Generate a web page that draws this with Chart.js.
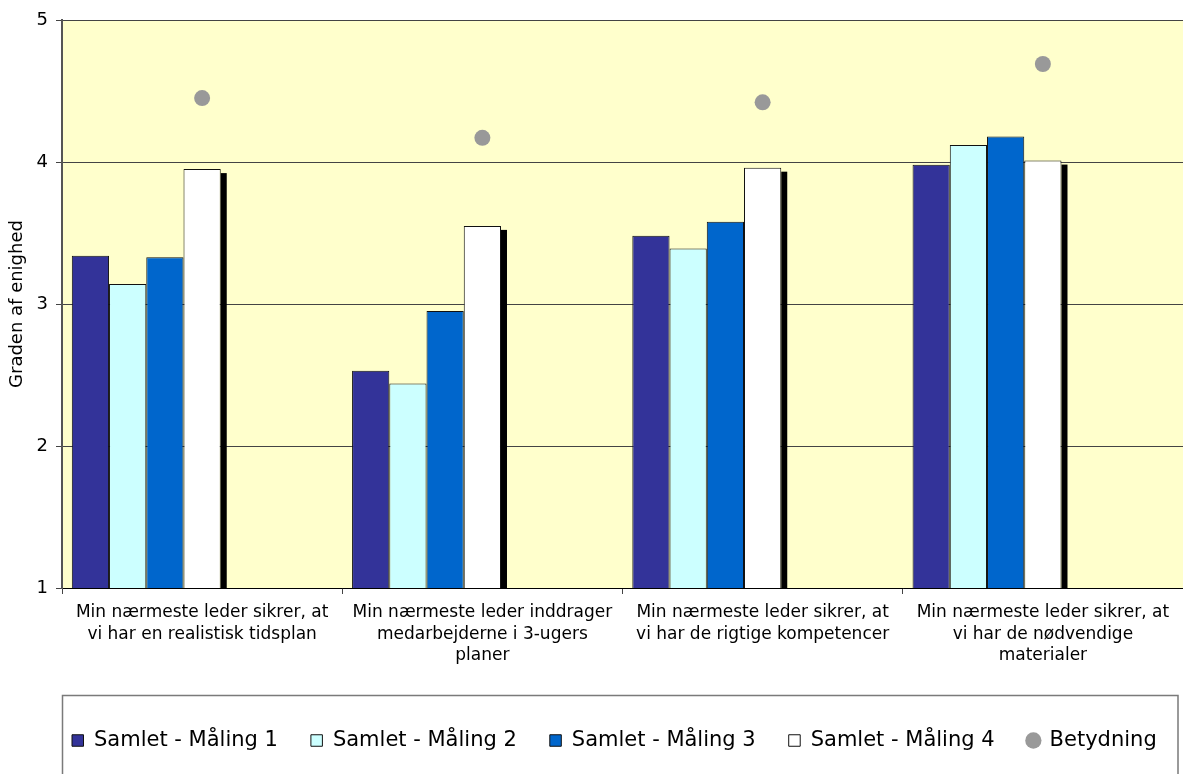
<!DOCTYPE html>
<html>
<head>
<meta charset="utf-8">
<script src="https://cdn.jsdelivr.net/npm/chart.js@4"></script>
<style>
  html, body { margin: 0; padding: 0; background: #ffffff; }
  #wrap { width: 1183px; height: 774px; position: relative; }
</style>
</head>
<body>
<div id="wrap"><canvas id="c"></canvas></div>
<script>
// ---- data ----
const categories = [
  ["Min nærmeste leder sikrer, at", "vi har en realistisk tidsplan"],
  ["Min nærmeste leder inddrager", "medarbejderne i 3-ugers", "planer"],
  ["Min nærmeste leder sikrer, at", "vi har de rigtige kompetencer"],
  ["Min nærmeste leder sikrer, at", "vi har de nødvendige", "materialer"]
];
const seriesNames = ["Samlet - Måling 1", "Samlet - Måling 2", "Samlet - Måling 3", "Samlet - Måling 4", "Betydning"];
const maaling1 = [3.34, 2.53, 3.48, 3.98];
const maaling2 = [3.14, 2.44, 3.39, 4.12];
const maaling3 = [3.33, 2.95, 3.58, 4.18];
const maaling4 = [3.95, 3.55, 3.96, 4.01];
const betydning = [4.45, 4.17, 4.42, 4.69];
const yTicks = [1, 2, 3, 4, 5];
const yTitle = "Graden af enighed";

// ---- styles ----
const barColors = ["#333399", "#CCFFFF", "#0066CC", "#FFFFFF"];
const barBorder = "#111111";
const dotColor = "#999999";
const plotBg = "#FFFFCC";
const FONT = "'DejaVu Sans', Verdana, sans-serif";
const LEG_PAD = 33;

Chart.defaults.font.family = FONT;
Chart.defaults.color = "#000000";

const emptySlot = () => ({
  type: 'bar', label: '', data: categories.map(() => null),
  backgroundColor: 'rgba(0,0,0,0)', borderWidth: 0
});

const barSeries = [maaling1, maaling2, maaling3, maaling4];
const datasets = barSeries.map((vals, i) => ({
  type: 'bar',
  label: seriesNames[i],
  data: vals,
  backgroundColor: barColors[i],
  borderColor: barBorder,
  borderWidth: 1,
  pointStyle: 'rect'
}));
datasets.push(emptySlot(), emptySlot(), emptySlot());
datasets.push({
  type: 'line',
  label: seriesNames[4],
  data: betydning,
  showLine: false,
  order: -1,
  pointStyle: 'circle',
  pointRadius: 8,
  pointHoverRadius: 8,
  pointBorderWidth: 0,
  pointBackgroundColor: dotColor,
  pointBorderColor: dotColor,
  backgroundColor: dotColor,
  borderColor: dotColor,
  borderWidth: 0
});

const bgPlugin = {
  id: 'bg',
  beforeDraw(chart) {
    const ctx = chart.ctx, a = chart.chartArea;
    ctx.save();
    ctx.fillStyle = '#ffffff';
    ctx.fillRect(0, 0, chart.width, chart.height);
    ctx.fillStyle = plotBg;
    ctx.fillRect(a.left, a.top, a.right - a.left, a.bottom - a.top);
    ctx.restore();
    // center legend under plot area
    const lg = chart.legend;
    if (lg && lg.lineWidths) {
      const lw = lg.lineWidths[0];
      const start = a.left + 10;
      lg.left = 0;
      lg.right = 2 * start - LEG_PAD + lw;
      lg.width = lg.right - lg.left;
    }
  },
  afterDraw(chart) {
    const ctx = chart.ctx, a = chart.chartArea, lg = chart.legend;
    ctx.save();
    ctx.strokeStyle = '#7a7a7a';
    ctx.lineWidth = 1.5;
    ctx.beginPath();
    const top = lg.top - 1.5;
    ctx.moveTo(a.left + 0.5, chart.height + 5);
    ctx.lineTo(a.left + 0.5, top);
    ctx.lineTo(a.right - 5, top);
    ctx.lineTo(a.right - 5, chart.height + 5);
    ctx.stroke();
    ctx.restore();
  }
};

const shadowPlugin = {
  id: 'barShadow',
  beforeDatasetDraw(chart, args) {
    if (args.index !== 3) return;
    const ctx = chart.ctx, a = chart.chartArea;
    ctx.save();
    ctx.beginPath();
    ctx.rect(a.left, a.top, a.right - a.left, a.bottom - a.top);
    ctx.clip();
    ctx.fillStyle = '#000000';
    args.meta.data.forEach(bar => {
      const p = bar.getProps(['x', 'y', 'base', 'width'], true);
      ctx.fillRect(p.x + p.width / 2, p.y + 4, 6, p.base - p.y - 4);
    });
    ctx.restore();
  }
};

new Chart(document.getElementById('c'), {
  data: { labels: categories, datasets: datasets },
  plugins: [bgPlugin, shadowPlugin],
  options: {
    responsive: true,
    maintainAspectRatio: false,
    animation: false,
    layout: { autoPadding: false, padding: { top: 20, right: 0, bottom: 13, left: 0 } },
    datasets: {
      bar: { categoryPercentage: 0.93, barPercentage: 1.0 }
    },
    plugins: {
      tooltip: { enabled: false },
      legend: {
        position: 'bottom',
        labels: {
          usePointStyle: true,
          boxWidth: 11.5,
          boxHeight: 11.5,
          padding: LEG_PAD,
          color: '#000000',
          font: { size: 21, family: FONT },
          filter: (item) => item.text !== '',
          sort: (a, b) => a.datasetIndex - b.datasetIndex
        }
      }
    },
    scales: {
      x: {
        type: 'category',
        offset: true,
        afterFit: (s) => { s.height = 109; s.paddingRight = 0; s.paddingLeft = 0; },
        grid: {
          display: true, drawOnChartArea: false, drawTicks: true,
          tickLength: 6, color: '#444444', offset: true
        },
        border: { display: true, color: '#000000', width: 1 },
        ticks: {
          autoSkip: false, maxRotation: 0, minRotation: 0, padding: 8,
          color: '#000000',
          font: { size: 17, family: FONT, lineHeight: 1.27 }
        }
      },
      y: {
        min: 1, max: 5,
        afterFit: (s) => { s.width = 62; },
        afterBuildTicks: (s) => { s.ticks = yTicks.map(v => ({ value: v })); },
        grid: { color: '#444444', lineWidth: 1, drawTicks: true, tickLength: 6 },
        border: { display: true, color: '#555555', width: 2 },
        ticks: {
          stepSize: 1, padding: 8, color: '#000000',
          font: { size: 18, family: FONT }
        },
        title: {
          display: true, text: yTitle, color: '#000000',
          font: { size: 18, family: FONT },
          padding: { top: 7, bottom: 0 }
        }
      }
    }
  }
});
</script>
</body>
</html>
